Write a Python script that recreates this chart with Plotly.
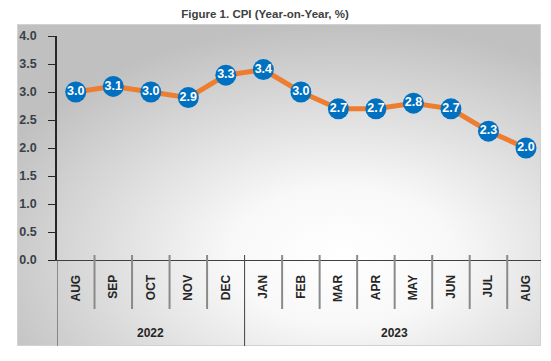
import base64
import plotly.graph_objects as go

months = ["AUG", "SEP", "OCT", "NOV", "DEC", "JAN", "FEB", "MAR", "APR", "MAY", "JUN", "JUL", "AUG"]
years = ["2022"] * 5 + ["2023"] * 8
cpi = [3.0, 3.1, 3.0, 2.9, 3.3, 3.4, 3.0, 2.7, 2.7, 2.8, 2.7, 2.3, 2.0]
y_ticks = [0.0, 0.5, 1.0, 1.5, 2.0, 2.5, 3.0, 3.5, 4.0]
title_text = "Figure 1. CPI (Year-on-Year, %)"

W, H = 551, 361
L, R, T, B = 57, 10, 36, 101
pw, ph = W - L - R, H - T - B
AX_Y = H - B  # pixel y of the x axis line


def py(p):
    """pixel y -> paper y"""
    return (AX_Y - p) / ph


svg = (
    '<svg xmlns="http://www.w3.org/2000/svg" width="524" height="322" viewBox="0 0 524 322" preserveAspectRatio="none">'
    '<defs><radialGradient id="g" cx="0.62" cy="0.72" r="0.72" gradientUnits="objectBoundingBox">'
    '<stop offset="0" stop-color="#ffffff"/><stop offset="0.3" stop-color="#f8f8f8"/>'
    '<stop offset="1" stop-color="#c0c0c0"/></radialGradient></defs>'
    '<rect x="0" y="0" width="524" height="322" fill="url(#g)"/>'
    '<rect x="0.5" y="0.5" width="523" height="321" fill="none" stroke="#d2d2d2" stroke-width="1"/>'
    '</svg>'
)
src = "data:image/svg+xml;base64," + base64.b64encode(svg.encode()).decode()

bx0, bx1, by0, by1 = 17, 541, 24, 346

idx = list(range(len(months)))

fig = go.Figure()
fig.add_trace(go.Scatter(
    x=idx, y=cpi,
    mode="lines+markers+text",
    line=dict(color="#ED7D31", width=5),
    marker=dict(color="#0070C0", size=21, line=dict(width=0)),
    text=[f"{v:.1f}" for v in cpi],
    textposition="middle center",
    textfont=dict(color="white", size=12.5, family="Liberation Sans", weight="bold"),
    cliponaxis=False,
    hoverinfo="skip",
))

shapes = []
# month boundary ticks
for i in idx[:-1]:
    if years[i] == years[i + 1]:
        shapes.append(dict(type="line", xref="x", yref="paper", x0=i + 0.5, x1=i + 0.5,
                           y0=py(255), y1=py(309), line=dict(color="#8a8a8a", width=2)))
# year dividers (including left edge)
bounds = [-0.5] + [i + 0.5 for i in idx[:-1] if years[i] != years[i + 1]]
for b in bounds:
    shapes.append(dict(type="line", xref="x", yref="paper", x0=b, x1=b,
                       y0=py(255 if b > -0.5 else 260), y1=py(346),
                       line=dict(color="#404040", width=1)))

annotations = []
for yr in dict.fromkeys(years):
    pos = [i for i in idx if years[i] == yr]
    annotations.append(dict(x=(pos[0] + pos[-1]) / 2, y=py(333), xref="x", yref="paper",
                            text=yr, showarrow=False, xanchor="center", yanchor="middle",
                            font=dict(family="Liberation Sans", size=12, color="#262626", weight="bold")))

fig.update_layout(
    width=W, height=H,
    margin=dict(l=L, r=R, t=T, b=B, pad=0, autoexpand=False),
    paper_bgcolor="white", plot_bgcolor="rgba(0,0,0,0)",
    showlegend=False,
    title=dict(text=title_text, x=265 / W, xref="container", xanchor="center",
               y=1 - 14 / H, yref="container", yanchor="middle",
               font=dict(family="Liberation Sans", size=11.5, color="#404040", weight="bold")),
    images=[dict(source=src, xref="paper", yref="paper", x=(bx0 - L) / pw, y=py(by0),
                 sizex=(bx1 - bx0) / pw, sizey=(by1 - by0) / ph, sizing="stretch", layer="below",
                 xanchor="left", yanchor="top")],
    shapes=shapes,
    annotations=annotations,
)
fig.update_xaxes(
    range=[-0.5, 12.4],
    tickvals=idx, ticktext=months, tickangle=-90,
    ticks="", ticklabelstandoff=9,
    showline=True, linecolor="#404040", linewidth=1,
    tickfont=dict(family="Liberation Sans", size=12, color="#262626", weight="bold"),
    showgrid=False, zeroline=False,
)
fig.update_yaxes(
    range=[0, 4], tickvals=y_ticks, ticktext=[f"{v:.1f}" for v in y_ticks],
    showline=True, linecolor="#262626", linewidth=1.5,
    ticks="outside", ticklen=7, tickcolor="#262626", ticklabelstandoff=9,
    tickfont=dict(family="Liberation Sans", size=12.5, color="#3a3f4a", weight="bold"),
    showgrid=False, zeroline=False,
)
fig.write_html("out.html", config={"displayModeBar": False},
               post_script="document.body.style.margin='0';")
